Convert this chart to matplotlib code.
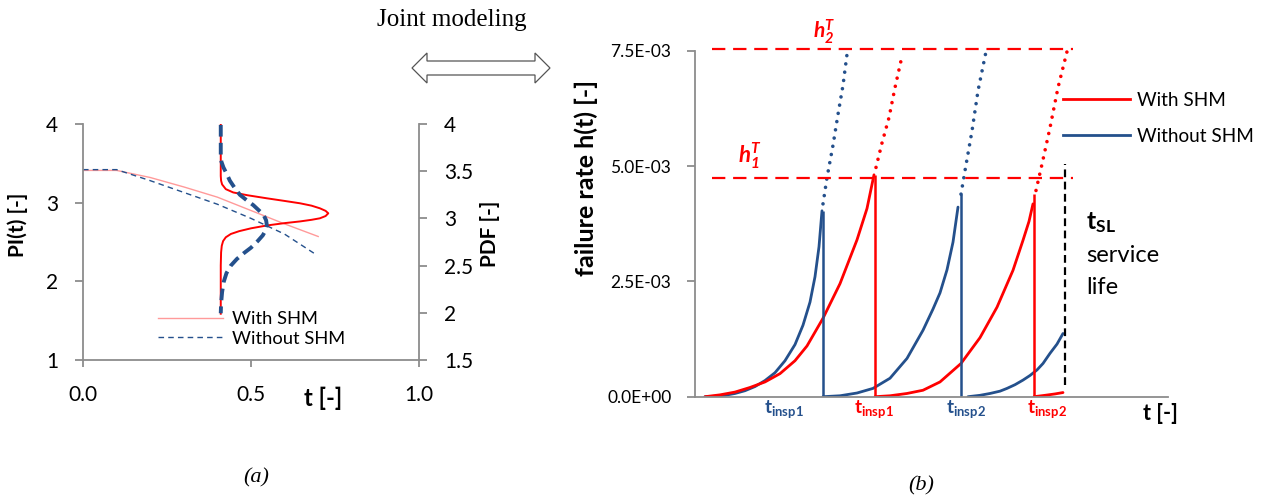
import numpy as np
import matplotlib
matplotlib.use("Agg")
import matplotlib.pyplot as plt
from matplotlib.patches import Polygon
from matplotlib.lines import Line2D
from matplotlib.ticker import FuncFormatter

plt.rcParams['font.family'] = ['Lato', 'DejaVu Sans']
plt.rcParams['mathtext.fontset'] = 'custom'
plt.rcParams['mathtext.rm'] = 'Lato'
plt.rcParams['mathtext.bf'] = 'Lato:bold'
plt.rcParams['mathtext.it'] = 'Lato:italic'
plt.rcParams['mathtext.bfit'] = 'Lato:bold:italic'

RED = "#FF0000"
BLUE = "#24508C"
PINK = "#FF9A9A"
GRAY = "#8C8C8C"

# ---------------- panel (a) data ----------------
# reliability index PI(t) over time
pi_t = [0.0, 0.1, 0.2, 0.3, 0.4, 0.5, 0.6, 0.7]
pi_with = [3.41, 3.41, 3.32, 3.20, 3.07, 2.90, 2.73, 2.57]
pi_t_wo = [0.0, 0.1, 0.2, 0.3, 0.4, 0.5, 0.6, 0.69]
pi_without = [3.42, 3.42, 3.28, 3.13, 2.98, 2.80, 2.60, 2.35]

# PDF curves drawn sideways (x = density offset, y = PDF axis)
pdf_red_x = [0.41, 0.41, 0.411, 0.414, 0.425, 0.447, 0.49, 0.547, 0.60, 0.646,
             0.68, 0.705, 0.722, 0.730, 0.722, 0.705, 0.68, 0.646, 0.60, 0.547,
             0.50, 0.465, 0.44, 0.425, 0.417, 0.413, 0.411, 0.41, 0.41]
pdf_red_y = [3.99, 3.45, 3.40, 3.36, 3.31, 3.275, 3.245, 3.213, 3.185, 3.160,
             3.135, 3.107, 3.08, 3.054, 3.025, 3.001, 2.985, 2.968, 2.950, 2.925,
             2.895, 2.865, 2.835, 2.80, 2.76, 2.71, 2.64, 2.50, 1.99]
pdf_blue_x = [0.41, 0.41, 0.412, 0.418, 0.428, 0.437, 0.452, 0.467, 0.488, 0.507,
              0.525, 0.537, 0.545, 0.547, 0.543, 0.535, 0.52, 0.50, 0.478, 0.458,
              0.44, 0.427, 0.419, 0.414, 0.411, 0.41]
pdf_blue_y = [3.99, 3.65, 3.60, 3.54, 3.47, 3.40, 3.32, 3.25, 3.19, 3.14,
              3.08, 3.04, 2.98, 2.93, 2.87, 2.82, 2.76, 2.69, 2.63, 2.57,
              2.50, 2.42, 2.33, 2.22, 2.10, 1.995]

# ---------------- panel (b) data (h in 1E-03) ----------------
b1_t = [10, 20, 30, 40, 50, 60, 70, 80, 90, 100, 108, 115, 120, 124, 127]
b1_h = [0, 0.01, 0.03, 0.07, 0.13, 0.22, 0.35, 0.52, 0.78, 1.13, 1.55, 2.05, 2.60, 3.25, 4.03]
b2_t = [128, 145, 162, 178, 195, 212, 228, 238, 245, 252, 258, 263]
b2_h = [0, 0.02, 0.08, 0.18, 0.40, 0.83, 1.44, 1.90, 2.25, 2.75, 3.35, 4.11]
b3_t = [273, 285, 295, 305, 312, 320, 328, 335, 342, 348, 355, 362, 368]
b3_h = [0, 0.03, 0.07, 0.12, 0.18, 0.26, 0.36, 0.46, 0.58, 0.72, 0.94, 1.14, 1.37]
r1_t = [10, 25, 40, 55, 70, 85, 100, 112, 128, 145, 162, 172, 179]
r1_h = [0, 0.04, 0.10, 0.20, 0.32, 0.50, 0.78, 1.10, 1.70, 2.45, 3.40, 4.08, 4.81]
r2_t = [180, 195, 212, 228, 245, 266, 285, 302, 318, 328, 334, 338]
r2_h = [0, 0.02, 0.07, 0.14, 0.32, 0.72, 1.28, 1.94, 2.74, 3.39, 3.80, 4.18]
r3_t = [339, 350, 360, 368]
r3_h = [0, 0.03, 0.06, 0.09]

# extrapolated (dotted) branches
bd1_t = [128, 132, 138, 143, 148, 152]
bd1_h = [4.18, 4.75, 5.45, 6.12, 6.75, 7.42]
bd2_t = [266, 270, 277, 283, 291]
bd2_h = [4.39, 4.90, 5.76, 6.63, 7.48]
rd1_t = [181, 187, 194, 200, 207]
rd1_h = [4.97, 5.50, 6.05, 6.70, 7.38]
rd2_t = [341, 347, 355, 363, 372]
rd2_h = [4.47, 5.04, 5.83, 6.70, 7.48]

# inspection times and the height of the vertical drop
insp_blue_t = [128, 266]
insp_blue_h = [4.03, 4.39]
insp_red_t = [180, 339]
insp_red_h = [4.81, 4.39]

h1_level = 4.75
h2_level = 7.53
h_span = [17, 378]
t_sl = 370
t_sl_span = [0.25, 5.04]

W, H = 1268, 499
fig = plt.figure(figsize=(W / 100, H / 100), dpi=100)


def fx(px):
    return px / W


def fy(py):
    return 1 - py / H


# ================= panel (a) =================
ax1 = fig.add_axes([fx(83), fy(360), (419 - 83) / W, (360 - 124) / H])
ax1.set_xlim(0, 1)
ax1.set_ylim(1, 4)
ax2 = ax1.twinx()
ax2.set_ylim(1.5, 4)

ax1.plot(pi_t, pi_with, color=PINK, lw=1.0, label="With SHM")
ax1.plot(pi_t_wo, pi_without, color=BLUE, lw=1.0, dashes=(4, 3), label="Without SHM")
ax2.plot(pdf_red_x, pdf_red_y, color=RED, lw=1.4)
ax2.plot(pdf_blue_x, pdf_blue_y, color=BLUE, lw=2.8, dashes=(3, 1.6))

for a in (ax1, ax2):
    a.spines['top'].set_visible(False)
ax1.spines['right'].set_visible(False)
ax2.spines['left'].set_visible(False)
ax2.spines['bottom'].set_visible(False)
for s in ('left', 'bottom'):
    ax1.spines[s].set_color(GRAY)
    ax1.spines[s].set_linewidth(1.3)
ax2.spines['right'].set_color(GRAY)
ax2.spines['right'].set_linewidth(1.3)

ax1.set_xticks([0, 0.5, 1.0])
ax1.set_xticklabels(["0.0", "0.5", "1.0"])
ax1.set_yticks([1, 2, 3, 4])
ax1.set_yticklabels(["1", "2", "3", "4"])
ax2.set_yticks([1.5, 2, 2.5, 3, 3.5, 4])
ax2.set_yticklabels(["1.5", "2", "2.5", "3", "3.5", "4"])
ax1.tick_params(axis='x', direction='out', length=5, width=1.3, color=GRAY,
                pad=13, labelsize=15)
ax1.tick_params(axis='y', direction='out', length=6, width=1.3, color=GRAY,
                pad=12, labelsize=15)
ax2.tick_params(axis='y', direction='out', length=6, width=1.3, color=GRAY,
                pad=12, labelsize=15)

ax1.legend(loc='upper left', bbox_to_anchor=(fx(158), fy(311)),
           bbox_transform=fig.transFigure, frameon=False, fontsize=13.2,
           handlelength=3.55, handletextpad=0.5, labelspacing=0.2,
           borderpad=0, borderaxespad=0)

fig.text(fx(18), fy(225), "PI(t) [-]", rotation=90, ha='center', va='center',
         fontsize=15, fontweight='bold')
fig.text(fx(490), fy(234), "PDF [-]", rotation=90, ha='center', va='center',
         fontsize=15, fontweight='bold')
fig.text(fx(323), fy(398), "t [-]", ha='center', va='center',
         fontsize=17, fontweight='bold')

# ================= panel (b) =================
axr = fig.add_axes([fx(695), fy(396.7), (1168 - 695) / W, (396.7 - 50.7) / H])
axr.set_xlim(0, 473)
axr.set_ylim(0, 7.5)

for t, h in ((b1_t, b1_h), (b2_t, b2_h), (b3_t, b3_h)):
    axr.plot(t, h, color=BLUE, lw=2.0, solid_capstyle='round')
for t, h in ((r1_t, r1_h), (r2_t, r2_h), (r3_t, r3_h)):
    axr.plot(t, h, color=RED, lw=2.0, solid_capstyle='round')
axr.vlines(insp_blue_t, 0, insp_blue_h, color=BLUE, lw=1.8)
axr.vlines(insp_red_t, 0, insp_red_h, color=RED, lw=1.8)
for t, h in ((bd1_t, bd1_h), (bd2_t, bd2_h)):
    axr.plot(t, h, color=BLUE, lw=2.6, linestyle=(0, (0.01, 2.3)),
             dash_capstyle='round', clip_on=False)
for t, h in ((rd1_t, rd1_h), (rd2_t, rd2_h)):
    axr.plot(t, h, color=RED, lw=2.6, linestyle=(0, (0.01, 2.3)),
             dash_capstyle='round', clip_on=False)

axr.hlines([h1_level, h2_level], h_span[0], h_span[1], color=RED, lw=1.6,
           linestyles=(0, (6, 3.5)), clip_on=False)
axr.vlines(t_sl, t_sl_span[0], t_sl_span[1], color='black', lw=1.6,
           linestyles=(0, (3.5, 2)))

axr.spines['top'].set_visible(False)
axr.spines['right'].set_visible(False)
for s in ('left', 'bottom'):
    axr.spines[s].set_color(GRAY)
    axr.spines[s].set_linewidth(1.3)
axr.set_xticks([])
axr.set_yticks([0, 2.5, 5.0, 7.5])
axr.yaxis.set_major_formatter(FuncFormatter(lambda v, p: f"{v * 1e-3:.1E}"))
axr.tick_params(axis='y', direction='out', length=6, width=1.3, color=GRAY,
                pad=11, labelsize=12.5)

handles = [Line2D([], [], color=RED, lw=2.0), Line2D([], [], color=BLUE, lw=2.0)]
axr.legend(handles, ["With SHM", "Without SHM"], loc='upper left',
           bbox_to_anchor=(fx(1063), fy(92)), bbox_transform=fig.transFigure,
           frameon=False, fontsize=13.7, handlelength=3.5, handletextpad=0.4,
           labelspacing=1.0, borderpad=0, borderaxespad=0)

fig.text(fx(586), fy(178), "failure rate h(t) [-]", rotation=90, ha='center',
         va='center', fontsize=18, fontweight='bold')
fig.text(fx(1160), fy(413), "t [-]", ha='center', va='center', fontsize=15.5,
         fontweight='bold')

insp_labels = [(784, BLUE, r"$\mathbf{t_{insp1}}$"), (874, RED, r"$\mathbf{t_{insp1}}$"),
               (966, BLUE, r"$\mathbf{t_{insp2}}$"), (1047, RED, r"$\mathbf{t_{insp2}}$")]
for px, c, s in insp_labels:
    fig.text(fx(px), fy(409), s, ha='center', va='center', color=c, fontsize=13.5)

fig.text(fx(750), fy(156), r"$\mathbfit{h_1^T}$", ha='center', va='center',
         color=RED, fontsize=16)
fig.text(fx(824), fy(32), r"$\mathbfit{h_2^T}$", ha='center', va='center',
         color=RED, fontsize=15)

fig.text(fx(1086), fy(223), r"$\mathbf{t_{SL}}$", ha='left', va='center', fontsize=18)
fig.text(fx(1086), fy(255), "service", ha='left', va='center', fontsize=17)
fig.text(fx(1086), fy(287), "life", ha='left', va='center', fontsize=17)

# ================= decorations =================
fig.text(fx(452), fy(20), "Joint modeling", ha='center', va='center',
         fontsize=18, family='Liberation Serif')
arrow_px = [(412, 68), (427, 53), (427, 61), (535, 61), (535, 53), (550, 68),
            (535, 83), (535, 75), (427, 75), (427, 83)]
fig.add_artist(Polygon([(fx(x), fy(y)) for x, y in arrow_px], closed=True,
                       transform=fig.transFigure, fc='white', ec='#555555', lw=0.9))

fig.text(fx(256), fy(478), "(a)", ha='center', va='center', fontsize=16,
         family='Liberation Serif', style='italic')
fig.text(fx(921), fy(486), "(b)", ha='center', va='center', fontsize=16,
         family='Liberation Serif', style='italic')

fig.savefig("out.png", dpi=100)
